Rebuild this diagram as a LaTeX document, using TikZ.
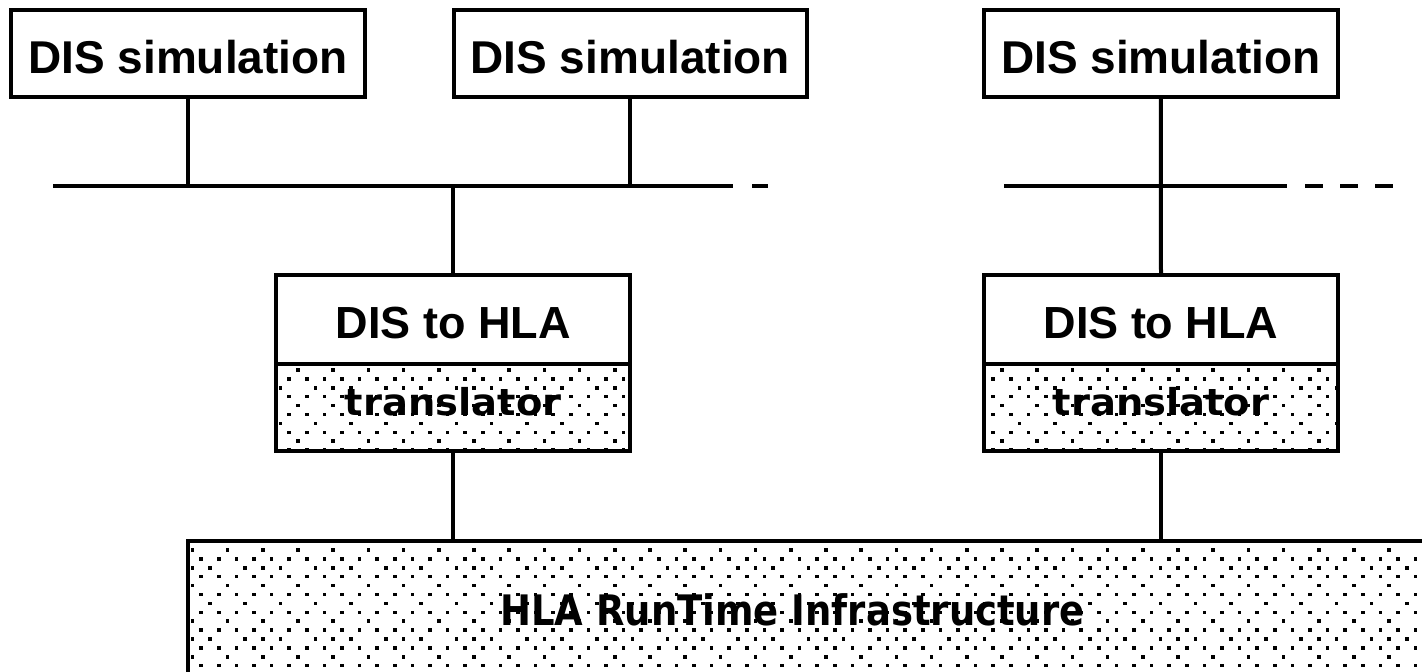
\documentclass[tikz,border=0pt]{standalone}
\usepackage{fontspec}
\usepackage{graphicx}
\newfontfamily\labelfont{Liberation Sans}
\newfontfamily\screenfont{DejaVu Sans}

% Halftone dot field: origin x, origin y, first column, last column, last row
\newcommand\dotfield[5]{%
  \foreach \r in {0,...,#5}{%
    \foreach \j in {#3,...,#4}{%
      \pgfmathtruncatemacro\dothere{(mod(\r,2)==1 && mod(\j,2)==1) || (mod(\r,4)==0 && mod(\j,4)==2) || (mod(\r,8)==2 && mod(\j,2)==0 && mod(\j,8)!=2) || (mod(\r,8)==6 && mod(\j,4)==0)}%
      \ifnum\dothere=1
        \fill (#1+\j*8.8-1.75, #2+\r*8.9-1.75) rectangle ++(3.5,3.5);
      \fi
    }%
  }%
}

\begin{document}
\begin{tikzpicture}[x=1pt,y=-1pt,
  wire/.style={line width=4pt},
  tail/.style={wire, dash pattern=on 17.5pt off 17.5pt},
  frame/.style={draw, line width=4pt, inner sep=0pt, outer sep=0pt},
  simbox/.style={frame, minimum width=353.4pt, minimum height=86.7pt,
    text height=38.6pt, text depth=0pt,
    font=\labelfont\bfseries\fontsize{46pt}{50pt}\selectfont},
  hlabox/.style={frame, minimum width=354.3pt, minimum height=88.5pt,
    text height=37pt, text depth=0pt,
    font=\labelfont\bfseries\fontsize{45pt}{50pt}\selectfont},
  xlbox/.style={frame, minimum width=354.3pt, minimum height=87.5pt,
    text height=15pt, text depth=0pt,
    font=\screenfont\bfseries\fontsize{37pt}{40pt}\selectfont},
  rtitext/.style={inner sep=0pt, anchor=base,
    font=\screenfont\bfseries\fontsize{42pt}{46pt}\selectfont}]

\clip (0,0) rectangle (1422,672);

% simulations
\node[simbox] (sim1) at (188,53.7) {DIS simulation};
\node[simbox] (sim2) at (630.3,53.7) {DIS simulation};
\node[simbox] (sim3) at (1160.8,53.7) {DIS simulation};

% translators
\node[hlabox] (hla1) at (453.2,319.5) {DIS to HLA};
\node[xlbox] (xl1) at (453.2,407.5) {\scalebox{1.04}[1]{translator}};
\node[hlabox] (hla2) at (1161,319.5) {DIS to HLA};
\node[xlbox] (xl2) at (1161,407.5) {\scalebox{1.04}[1]{translator}};

% run-time infrastructure
\node[frame, anchor=north west, minimum width=1300pt, minimum height=200pt] (rti) at (188,541) {};
\node[rtitext] (rtilabel) at (792.5,625) {\scalebox{0.88}[1]{HLA RunTime Infrastructure}};

% halftone fills
\begin{scope}
  \clip (xl1.north west) rectangle (xl1.south east);
  \dotfield{139.6}{370}{14}{58}{9}
\end{scope}
\begin{scope}
  \clip (xl2.north west) rectangle (xl2.south east);
  \dotfield{139.6}{370}{94}{138}{9}
\end{scope}
\begin{scope}
  \clip (rti.north west) rectangle (rti.south east);
  \dotfield{139.6}{550}{4}{147}{14}
\end{scope}

% networks
\coordinate (bus1w) at (53,186);
\coordinate (bus1e) at (733,186);
\coordinate (tail1a) at (752,186);
\coordinate (tail1b) at (768,186);
\coordinate (bus2w) at (1004,186);
\coordinate (bus2e) at (1287,186);
\coordinate (tail2a) at (1305,186);
\coordinate (tail2b) at (1393,186);
\draw[wire] (bus1w) -- (bus1e);
\draw[wire] (tail1a) -- (tail1b);
\draw[wire] (bus2w) -- (bus2e);
\draw[tail] (tail2a) -- (tail2b);

\coordinate (j1) at (sim1.south |- bus1w);
\coordinate (j2) at (sim2.south |- bus1w);
\coordinate (j3) at (hla1.north |- bus1w);
\coordinate (j4) at (sim3.south |- bus2w);

% connections
\draw[wire] (sim1.south) -- (j1);
\draw[wire] (sim2.south) -- (j2);
\draw[wire] (j3) -- (hla1.north);
\draw[wire] (sim3.south) -- (j4) -- (hla2.north);
\draw[wire] (xl1.south) -- (xl1.south |- rti.north);
\draw[wire] (xl2.south) -- (xl2.south |- rti.north);
\end{tikzpicture}
\end{document}
